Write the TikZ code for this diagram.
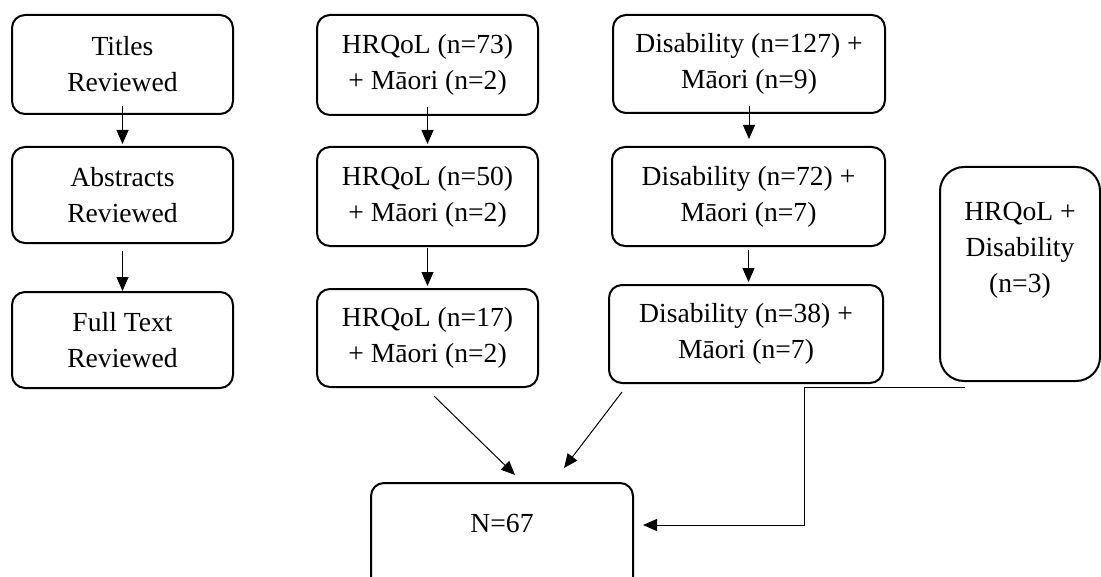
\documentclass[tikz,border=0pt]{standalone}
\usepackage{fontspec}
\setmainfont{Liberation Serif}
\usetikzlibrary{arrows.meta}
\begin{document}
\begin{tikzpicture}[x=0.5pt,y=-0.5pt,
  box/.style={draw,line width=1pt,rounded corners=6.5pt,align=center,inner sep=0pt,
    font=\fontsize{13.8}{18}\selectfont},
  link/.style={line width=0.5pt,-{Triangle[length=7pt,width=6pt]}}]
\useasboundingbox (0,0) rectangle (1101,577);
% stages
\node[box,minimum width=110.5pt,minimum height=49.5pt] (titles) at (122.5,64.5) {Titles\\Reviewed};
\node[box,minimum width=110.5pt,minimum height=48pt] (abstracts) at (122.5,195) {Abstracts\\Reviewed};
\node[box,minimum width=110.5pt,minimum height=48pt] (fulltext) at (122.5,340) {Full Text\\Reviewed};
% HRQoL column
\node[box,minimum width=110.5pt,minimum height=50pt] (hrq1) at (427.5,65) {HRQoL (n=73)\\+ Māori (n=2)};
\node[box,minimum width=110.5pt,minimum height=49.5pt] (hrq2) at (427.5,196.5) {HRQoL (n=50)\\+ Māori (n=2)};
\node[box,minimum width=110.5pt,minimum height=49pt] (hrq3) at (427.5,338) {HRQoL (n=17)\\+ Māori (n=2)};
% Disability column
\node[box,minimum width=136pt,minimum height=49pt] (dis1) at (749,64) {Disability (n=127) +\\Māori (n=9)};
\node[box,minimum width=136.5pt,minimum height=49.5pt] (dis2) at (748.5,196.5) {Disability (n=72) +\\Māori (n=7)};
\node[box,minimum width=137pt,minimum height=49pt] (dis3) at (746,334) {Disability (n=38) +\\Māori (n=7)};
% both
\node[box,minimum width=80pt,minimum height=107pt,rounded corners=12pt] (both) at (1020,274) {HRQoL +\\Disability\\(n=3)\\[9pt]};
% result
\node[box,anchor=north,minimum width=131pt,text height=24.5pt,text depth=30pt] (total) at (502,482) {N=67};

\draw[link] ([yshift=4.5pt]titles.south) -- ([yshift=1pt]abstracts.north);
\draw[link] ([yshift=-3.5pt]abstracts.south) -- (fulltext.north);
\draw[link] ([yshift=4.5pt]hrq1.south) -- ([yshift=1pt]hrq2.north);
\draw[link] ([yshift=-0.5pt]hrq2.south) -- ([yshift=1pt]hrq3.north);
\draw[link] ([yshift=4pt]dis1.south) -- ([yshift=3.5pt]dis1.south |- dis2.north);
\draw[link] ([yshift=-1.5pt]dis2.south) -- ([yshift=1pt]dis2.south |- dis3.north);

\coordinate (out1) at ([shift={(6.5,8)}]hrq3.south);
\coordinate (in1) at ([shift={(13,-7)}]total.north);
\coordinate (out2) at ([shift={(14,8)}]dis3.south west);
\coordinate (in2) at ([shift={(62,-14)}]total.north);
\coordinate (elb) at (965,387);
\coordinate (in3) at (643,525);
\draw[link] (out1) -- (in1);
\draw[link] (out2) -- (in2);
\draw[link] (elb) -- ++(-161,0) |- (in3);
\end{tikzpicture}
\end{document}
